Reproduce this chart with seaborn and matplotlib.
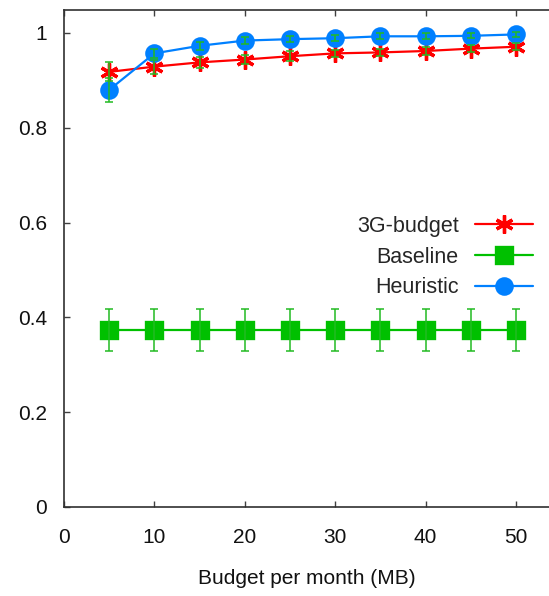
import numpy as np
import pandas as pd
import matplotlib
matplotlib.use("Agg")
import matplotlib.pyplot as plt
import seaborn as sns

budget = [5, 10, 15, 20, 25, 30, 35, 40, 45, 50]
g3_budget = [0.918, 0.929, 0.938, 0.944, 0.951, 0.957, 0.959, 0.962, 0.967, 0.971]
g3_err = [0.020, 0.015, 0.012, 0.010, 0.010, 0.008, 0.008, 0.008, 0.007, 0.007]
baseline = [0.373] * 10
baseline_err = [0.044] * 10
heuristic = [0.880, 0.957, 0.973, 0.984, 0.987, 0.989, 0.993, 0.993, 0.994, 0.997]
heur_err = [0.025, 0.010, 0.008, 0.007, 0.006, 0.006, 0.006, 0.006, 0.005, 0.005]
series_names = ["3G-budget", "Baseline", "Heuristic"]
xticks = [0, 10, 20, 30, 40, 50]
yticks = [0, 0.2, 0.4, 0.6, 0.8, 1]

sns.set_style("ticks")
plt.rcParams["font.family"] = ["Liberation Sans", "DejaVu Sans"]

RED, GREEN, BLUE = "#ff0000", "#00c000", "#0080ff"

fig = plt.figure(figsize=(5.49, 5.96), dpi=100)
ax = fig.add_axes([64/549, (596-507)/596, (549-64)/549, (507-10)/596])

specs = [
    (series_names[0], g3_budget, RED, (6, 2, 0), 13),
    (series_names[1], baseline, GREEN, "s", 11),
    (series_names[2], heuristic, BLUE, "o", 11),
]
for name, vals, color, marker, ms in specs:
    d = pd.DataFrame({"budget": budget, "value": vals})
    sns.lineplot(data=d, x="budget", y="value", color=color, marker=marker,
                 markersize=ms, markeredgewidth=2.4, markeredgecolor=color,
                 markerfacecolor=color, linewidth=1.6, label=name, ax=ax)

for vals, errs in [(g3_budget, g3_err), (baseline, baseline_err), (heuristic, heur_err)]:
    ax.errorbar(budget, vals, yerr=errs, fmt="none", ecolor="#22bb22", elinewidth=1.1,
                capsize=2.8, capthick=1.1, zorder=5)

ax.set_xlim(0, 53.65)
ax.set_ylim(0, 1.0485)
ax.set_xticks(xticks)
ax.set_xticklabels([str(v) for v in xticks])
ax.set_yticks(yticks)
ax.set_yticklabels(["0", "0.2", "0.4", "0.6", "0.8", "1"])
ax.tick_params(axis="both", direction="in", length=4, width=1, colors="#404040",
               labelcolor="#111111", labelsize=15)
ax.tick_params(axis="x", top=True, pad=15)
ax.tick_params(axis="y", pad=12)
ax.set_xlabel("Budget per month (MB)", fontsize=15, labelpad=16, color="#111111")
ax.set_ylabel("")
ax.spines["right"].set_visible(False)
for s in ["left", "bottom", "top"]:
    ax.spines[s].set_color("#303030")
    ax.spines[s].set_linewidth(1.2)

leg = ax.legend(loc="center right", bbox_to_anchor=(0.967, 0.503), frameon=False,
                markerfirst=False, handlelength=2.7, handletextpad=0.75,
                labelspacing=0.45, borderpad=0, borderaxespad=0, fontsize=15.5,
                numpoints=1)

fig.savefig("out.png", dpi=100)
